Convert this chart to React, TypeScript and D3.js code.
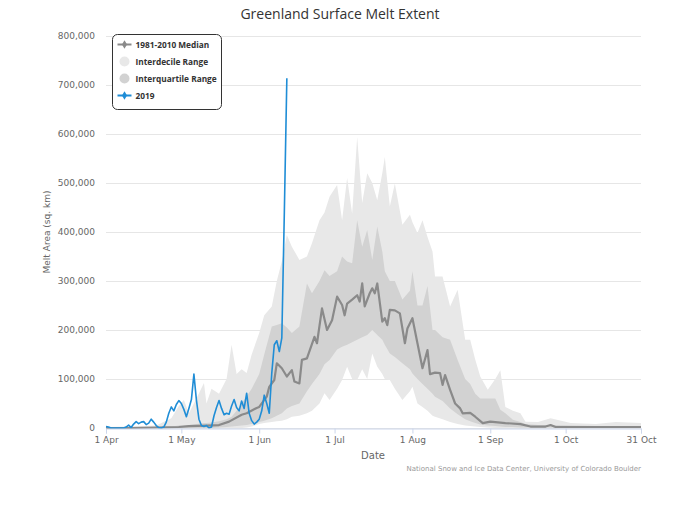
import React, { useRef, useEffect } from 'react';
import * as d3 from 'd3';

// values in thousand sq. km, days counted from 1 Apr
const seasonStart = new Date(2019, 3, 1);
const seasonEnd = new Date(2019, 9, 31);

const melt2019 = [
  3, 2, 0, 0, 0, 0, 0, 0, 2, 6, 1, 8, 13, 9, 12, 13, 7, 10, 18, 12,
  5, 1, 0, 2, 12, 30, 43, 35, 48, 56, 50, 38, 23, 40, 58, 110, 57, 18, 5, 3,
  5, 0, 2, 25, 42, 56, 40, 27, 30, 28, 45, 58, 42, 35, 55, 40, 71, 30, 15, 8,
  12, 18, 35, 67, 50, 30, 112, 170, 178, 156, 184, 440, 714,
];

const medianDays = [
  0, 10, 20, 29, 33, 40, 45, 49, 54, 56, 60, 61, 64, 65, 67, 68, 70, 72, 74, 75,
  77, 78, 80, 83, 84, 86, 88, 90, 92, 94, 95, 96, 98, 100, 101, 102, 103, 105, 106, 107,
  108, 110, 111, 112, 113, 115, 117, 119, 120, 122, 124, 126, 128, 129, 131, 133, 134, 135, 137, 139,
  141, 142, 145, 147, 150, 153, 159, 165, 169, 175, 177, 179, 190, 200, 213,
];
const medianValues = [
  0, 0, 1, 2, 4, 5, 6, 13, 27, 30, 41, 43, 64, 84, 98, 132, 122, 105, 118, 95,
  91, 139, 142, 186, 173, 244, 200, 220, 268, 251, 230, 254, 262, 271, 258, 295, 248, 275, 285, 275,
  295, 217, 224, 210, 241, 240, 234, 173, 203, 224, 173, 122, 159, 110, 113, 112, 88, 108, 78, 50,
  40, 30, 31, 23, 10, 13, 10, 8, 3, 3, 6, 2, 2, 2, 2,
];

const bandDays = [
  0, 10, 20, 26, 29, 31, 33, 36, 39, 40, 42, 45, 48, 50, 52, 54, 56, 58, 61, 63,
  66, 68, 70, 72, 74, 77, 80, 82, 85, 87, 89, 92, 94, 96, 98, 100, 102, 104, 106, 108,
  110, 111, 113, 115, 118, 121, 122, 124, 126, 128, 130, 131, 134, 137, 140, 143, 145, 147, 149, 152,
  155, 157, 159, 162, 165, 167, 172, 177, 185, 195, 203, 213,
];
const p90 = [
  2, 3, 5, 20, 45, 57, 30, 60, 92, 50, 80, 70, 100, 170, 110, 120, 112, 150, 194, 230,
  248, 300, 340, 394, 370, 343, 350, 377, 424, 440, 472, 496, 424, 510, 437, 594, 459, 520, 500, 465,
  520, 553, 452, 499, 415, 435, 420, 398, 424, 390, 360, 309, 309, 248, 282, 180, 180, 140, 105, 78,
  100, 118, 43, 35, 30, 13, 12, 20, 10, 8, 12, 10,
];
const p75 = [
  0, 1, 2, 3, 5, 5, 6, 8, 10, 10, 11, 14, 18, 23, 35, 50, 65, 80, 110, 150,
  207, 210, 214, 205, 194, 207, 295, 275, 300, 322, 310, 320, 350, 340, 336, 424, 370, 404, 343, 411,
  360, 320, 300, 300, 262, 280, 320, 250, 250, 290, 200, 200, 185, 180, 139, 100, 90, 70, 60, 60,
  60, 37, 30, 17, 12, 8, 6, 6, 5, 4, 4, 4,
];
const p25 = [
  0, 0, 0, 0, 0, 0, 0, 0, 0, 0, 0, 1, 2, 3, 4, 5, 6, 8, 12, 15,
  20, 25, 30, 40, 45, 50, 75, 90, 110, 130, 139, 160, 166, 170, 175, 180, 185, 190, 200, 190,
  180, 170, 152, 145, 132, 120, 111, 100, 90, 80, 70, 64, 55, 40, 28, 18, 14, 10, 7, 5,
  4, 3, 2, 2, 1, 1, 1, 1, 0, 0, 0, 0,
];
const p10 = [
  0, 0, 0, 0, 0, 0, 0, 0, 0, 0, 0, 0, 0, 0, 0, 0, 1, 3, 8, 10,
  12, 14, 15, 18, 23, 25, 30, 35, 50, 71, 57, 80, 98, 125, 100, 98, 120, 100, 152, 125,
  110, 100, 98, 80, 57, 75, 84, 50, 43, 35, 25, 23, 18, 12, 8, 5, 4, 3, 2, 1,
  0, 0, 0, 0, 0, 0, 0, 0, 0, 0, 0, 0,
];

const yTicks = [0, 100000, 200000, 300000, 400000, 500000, 600000, 700000, 800000];
const xTickDates = [
  new Date(2019, 3, 1), new Date(2019, 4, 1), new Date(2019, 5, 1), new Date(2019, 6, 1),
  new Date(2019, 7, 1), new Date(2019, 8, 1), new Date(2019, 9, 1), new Date(2019, 9, 31),
];
const xTickLabels = ['1 Apr', '1 May', '1 Jun', '1 Jul', '1 Aug', '1 Sep', '1 Oct', '31 Oct'];

const legendItems = [
  { label: '1981-2010 Median', kind: 'median' },
  { label: 'Interdecile Range', kind: 'decile' },
  { label: 'Interquartile Range', kind: 'quartile' },
  { label: '2019', kind: 'year' },
];

const FONT = '"DejaVu Sans", sans-serif';
const TITLE_FONT = '"Open Sans", sans-serif';
const BLUE = '#1f8dd6';
const MEDIAN = '#8a8a8a';
const DECILE = '#e8e8e8';
const QUARTILE = '#d2d2d2';

const width = 680;
const height = 506;

const App: React.FC = () => {
  const svgRef = useRef<SVGSVGElement>(null);

  useEffect(() => {
    if (!svgRef.current) return;
    const svg = d3.select(svgRef.current);
    svg.selectAll('*').remove();

    const dayDate = (d: number) => d3.timeDay.offset(seasonStart, d);
    const x = d3.scaleTime().domain([seasonStart, seasonEnd]).range([106, 641]);
    const y = d3.scaleLinear().domain([0, 800000]).range([428, 36]);

    // grid
    svg.append('g')
      .selectAll('line')
      .data(yTicks)
      .enter()
      .append('line')
      .attr('x1', 106)
      .attr('x2', 641)
      .attr('y1', d => y(d) + 0.5)
      .attr('y2', d => y(d) + 0.5)
      .attr('stroke', '#e6e6e6')
      .attr('stroke-width', 1);

    // bands
    const bandIdx = d3.range(bandDays.length);
    const decileArea = d3.area<number>()
      .x(i => x(dayDate(bandDays[i])))
      .y0(i => y(p10[i] * 1000))
      .y1(i => y(p90[i] * 1000));
    const quartileArea = d3.area<number>()
      .x(i => x(dayDate(bandDays[i])))
      .y0(i => y(p25[i] * 1000))
      .y1(i => y(p75[i] * 1000));

    svg.append('path').attr('d', decileArea(bandIdx)).attr('fill', DECILE);
    svg.append('path').attr('d', quartileArea(bandIdx)).attr('fill', QUARTILE);

    // median
    const medianLine = d3.line<number>()
      .x(i => x(dayDate(medianDays[i])))
      .y(i => y(medianValues[i] * 1000));
    svg.append('path')
      .attr('d', medianLine(d3.range(medianDays.length)))
      .attr('fill', 'none')
      .attr('stroke', MEDIAN)
      .attr('stroke-width', 2.2)
      .attr('stroke-linejoin', 'round');

    // 2019
    const yearLine = d3.line<number>()
      .x((_, i) => x(dayDate(i)))
      .y(v => y(v * 1000));
    svg.append('path')
      .attr('d', yearLine(melt2019))
      .attr('fill', 'none')
      .attr('stroke', BLUE)
      .attr('stroke-width', 1.6)
      .attr('stroke-linejoin', 'round');

    // x axis
    const xAxis = d3.axisBottom(x)
      .tickValues(xTickDates)
      .tickFormat((_, i) => xTickLabels[i])
      .tickSize(5)
      .tickPadding(3);
    const xg = svg.append('g').attr('transform', 'translate(0,428.5)').call(xAxis);
    xg.select('.domain').attr('stroke', '#ccd6eb');
    xg.selectAll('.tick line').attr('stroke', '#ccd6eb');
    xg.selectAll('.tick text')
      .attr('fill', '#666')
      .style('font-family', FONT)
      .style('font-size', '9px');

    // y labels
    svg.append('g')
      .selectAll('text')
      .data(yTicks)
      .enter()
      .append('text')
      .attr('x', 95)
      .attr('y', d => y(d) + 3)
      .attr('text-anchor', 'end')
      .attr('fill', '#666')
      .style('font-family', FONT)
      .style('font-size', '9px')
      .text(d => d3.format(',')(d));

    // titles
    svg.append('text')
      .attr('x', 340)
      .attr('y', 19)
      .attr('text-anchor', 'middle')
      .attr('fill', '#333')
      .style('font-family', TITLE_FONT)
      .style('font-size', '14px')
      .text('Greenland Surface Melt Extent');

    svg.append('text')
      .attr('transform', 'translate(50,232) rotate(-90)')
      .attr('text-anchor', 'middle')
      .attr('fill', '#666')
      .style('font-family', FONT)
      .style('font-size', '9px')
      .text('Melt Area (sq. km)');

    svg.append('text')
      .attr('x', 373)
      .attr('y', 459)
      .attr('text-anchor', 'middle')
      .attr('fill', '#666')
      .style('font-family', FONT)
      .style('font-size', '10px')
      .text('Date');

    svg.append('text')
      .attr('x', 641)
      .attr('y', 471)
      .attr('text-anchor', 'end')
      .attr('fill', '#999')
      .style('font-family', FONT)
      .style('font-size', '7px')
      .text('National Snow and Ice Data Center, University of Colorado Boulder');

    // legend
    const lg = svg.append('g').attr('transform', 'translate(112.5,34.5)');
    lg.append('rect')
      .attr('width', 109)
      .attr('height', 75)
      .attr('rx', 5)
      .attr('fill', '#fff')
      .attr('stroke', '#333')
      .attr('stroke-width', 1);

    const items = lg.selectAll('g.item')
      .data(legendItems)
      .enter()
      .append('g')
      .attr('class', 'item')
      .attr('transform', (_, i) => `translate(0,${10 + i * 17})`);

    items.each(function (d) {
      const it = d3.select(this);
      if (d.kind === 'median' || d.kind === 'year') {
        const c = d.kind === 'median' ? MEDIAN : BLUE;
        it.append('line')
          .attr('x1', 5).attr('x2', 19).attr('y1', 0).attr('y2', 0)
          .attr('stroke', c).attr('stroke-width', 2);
        it.append('path')
          .attr('d', d3.symbol(d3.symbolDiamond, 22)())
          .attr('transform', 'translate(12,0)')
          .attr('fill', c);
      } else {
        it.append('circle')
          .attr('cx', 12).attr('cy', 0).attr('r', 5)
          .attr('fill', d.kind === 'decile' ? DECILE : QUARTILE);
      }
      it.append('text')
        .attr('x', 23)
        .attr('y', 3.2)
        .attr('fill', '#333')
        .style('font-family', TITLE_FONT)
        .style('font-size', '8.3px')
        .style('font-weight', 'bold')
        .text(d.label);
    });
  }, []);

  return (
    <div style={{ position: 'absolute', left: 0, top: 0 }}>
      <svg ref={svgRef} width={width} height={height} style={{ display: 'block', background: '#fff' }} />
    </div>
  );
};

export default App;
